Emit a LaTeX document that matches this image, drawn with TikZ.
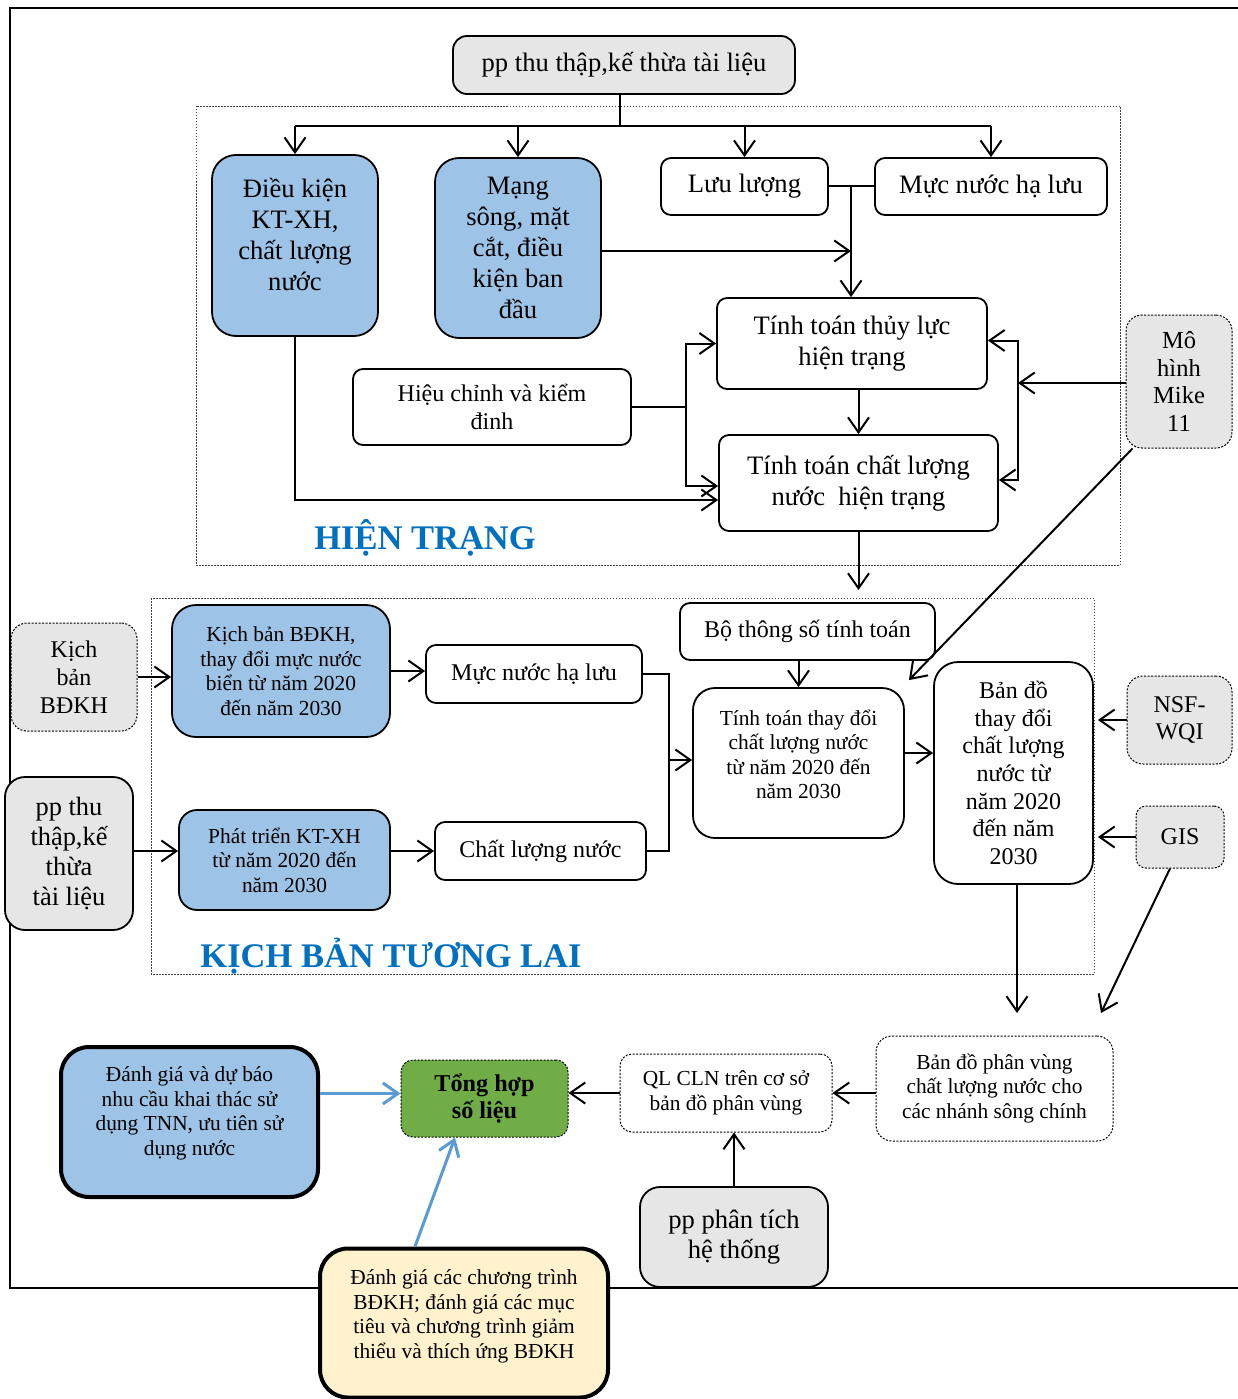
\documentclass[tikz,border=0pt]{standalone}
\usepackage{fontspec}
\setmainfont{Liberation Serif}
\usetikzlibrary{arrows.meta}
\definecolor{bluefill}{HTML}{9DC3E6}
\definecolor{grayfill}{HTML}{E7E6E6}
\definecolor{greenfill}{HTML}{70AD47}
\definecolor{yellowfill}{HTML}{FFF2CC}
\definecolor{titleblue}{HTML}{0070C0}
\definecolor{arrowblue}{HTML}{5B9BD5}
\begin{document}
\begin{tikzpicture}[x=1pt,y=-1pt,
 box/.style={draw, line width=1.8pt, rounded corners=10pt, align=center, inner sep=2pt},
 bluebox/.style={box, fill=bluefill, rounded corners=24pt},
 graybox/.style={box, fill=grayfill, rounded corners=14pt},
 dotbox/.style={box, line width=1pt, dash pattern=on 2pt off 1.5pt, rounded corners=16pt},
 graydot/.style={dotbox, fill=grayfill},
 thickbox/.style={box, line width=4pt, rounded corners=28pt},
 region/.style={draw=black!75, line width=0.8pt, dash pattern=on 1.5pt off 1.5pt},
 conn/.style={line width=2pt},
 arr/.style={conn, -{Straight Barb[length=15pt,width=21pt]}},
 bluearr/.style={line width=3pt, draw=arrowblue, -{Straight Barb[length=15pt,width=21pt]}},
 fXL/.style={font=\fontsize{26.6}{31}\selectfont},
 fL/.style={font=\fontsize{26.6}{31}\selectfont},
 fM/.style={font=\fontsize{24}{27.8}\selectfont},
 fS/.style={font=\fontsize{21.4}{24.5}\selectfont},
 title/.style={font=\fontsize{34.5}{40}\selectfont\bfseries, text=titleblue, anchor=base, inner sep=0pt}
]
\useasboundingbox (0,0) rectangle (1237,1399);
% outer frame
\draw[line width=1.5pt] (1240,8) -- (10,8) -- (10,1288) -- (1240,1288);
% regions
\draw[region] (196,106) rectangle (1120,565);
\draw[region] (151,598) rectangle (1094,974);
\node[title] (lab1) at (425,549) {HIỆN TRẠNG};
\node[title] (lab2) at (391,967) {KỊCH BẢN TƯƠNG LAI};

% ---- HIEN TRANG ----
\node[graybox, fXL, minimum width=342, minimum height=58] (top) at (624,65) {pp thu thập,kế thừa tài liệu};
\node[bluebox, fL, minimum width=166, minimum height=181, text depth=22pt] (dk) at (295,245.5) {Điều kiện\\KT-XH,\\chất lượng\\nước};
\node[bluebox, fL, minimum width=166, minimum height=180] (mang) at (518,248) {Mạng\\sông, mặt\\cắt, điều\\kiện ban\\đầu};
\node[box, fL, minimum width=167, minimum height=57] (luu) at (744.5,186.5) {Lưu lượng};
\node[box, fL, minimum width=232, minimum height=57] (mnhl) at (991,186.5) {Mực nước hạ lưu};
\node[box, fL, minimum width=270, minimum height=91] (tl) at (852,343.5) {Tính toán thủy lực\\hiện trạng};
\node[box, font=\fontsize{24}{28}\selectfont, minimum width=278, minimum height=76] (hc) at (492,407) {Hiệu chỉnh và kiểm\\đinh};
\node[box, fL, minimum width=279, minimum height=96] (cl) at (858.5,483) {Tính toán chất lượng\\nước\ \ hiện trạng};
\node[graydot, font=\fontsize{24.5}{27.8}\selectfont, minimum width=106, minimum height=133] (mike) at (1179,381.5) {Mô\\hình\\Mike\\11};

\coordinate (j0) at (620,126);
\draw[conn] (top.south -| j0) -- (j0);
\draw[conn] (dk.north |- j0) -- (mnhl.north |- j0);
\draw[arr] (dk.north |- j0) -- (dk.north);
\draw[arr] (mang.north |- j0) -- (mang.north);
\draw[arr] (luu.north |- j0) -- (luu.north);
\draw[arr] (mnhl.north |- j0) -- (mnhl.north);

\coordinate (j1) at (851,186.5);
\draw[conn] (luu.east) -- (mnhl.west);
\draw[arr] (j1) -- (j1 |- tl.north);
\draw[arr] ([yshift=-3pt]mang.east) -- ([yshift=-3pt]mang.east -| j1);
\draw[arr] (cl.north |- tl.south) -- (cl.north);

\coordinate (j2) at (686,407);
\draw[conn] (hc.east) -- (j2);
\draw[arr] (j2) |- (tl.west);
\draw[arr] (j2) |- ([yshift=-3pt]cl.west);
\draw[arr] (dk.south) |- ([yshift=-17pt]cl.west);

\coordinate (j3) at (1018,383);
\draw[arr] (mike.west |- j3) -- (j3);
\draw[arr] (j3) |- ([yshift=3pt]tl.east);
\draw[arr] (j3) |- ([yshift=3pt]cl.east);

\coordinate (e2) at (858.5,590);
\draw[arr] (cl.south) -- (e2);

% ---- KICH BAN ----
\node[graydot, fM, minimum width=126, minimum height=108] (kb) at (74,677) {Kịch\\bản\\BĐKH};
\node[bluebox, fS, minimum width=218, minimum height=132] (kbb) at (281,671) {Kịch bản BĐKH,\\thay đổi mực nước\\biển từ năm 2020\\đến năm 2030};
\node[box, fM, minimum width=216, minimum height=58] (mn2) at (534,674) {Mực nước hạ lưu};
\node[graybox, font=\fontsize{26.4}{30}\selectfont, minimum width=128, minimum height=153, rounded corners=20pt] (pp2) at (69,853.5) {pp thu\\thập,kế\\thừa\\tài liệu};
\node[bluebox, fS, minimum width=211, minimum height=100, rounded corners=18pt] (pt) at (284.5,860) {Phát triển KT-XH\\từ năm 2020 đến\\năm 2030};
\node[box, fM, minimum width=211, minimum height=58] (cln) at (540.5,851) {Chất lượng nước};
\node[box, fM, minimum width=255, minimum height=57] (bts) at (807.5,631.5) {Bộ thông số tính toán};
\node[box, fS, minimum width=211, minimum height=150, rounded corners=22pt, text depth=18pt] (ttd) at (798.5,763) {Tính toán thay đổi\\chất lượng nước\\từ năm 2020 đến\\năm 2030};
\node[box, font=\fontsize{24}{27.7}\selectfont, minimum width=159, minimum height=222, rounded corners=24pt] (bd) at (1013.5,773) {Bản đồ\\thay đổi\\chất lượng\\nước từ\\năm 2020\\đến năm\\2030};
\node[graydot, fM, minimum width=105, minimum height=88] (nsf) at (1179.5,720) {NSF-\\WQI};
\node[graydot, fM, minimum width=88, minimum height=62, rounded corners=10pt] (gis) at (1180,837) {GIS};

\draw[arr] (kb.east) -- (kb.east -| kbb.west);
\draw[arr] (kbb.east) -- (kbb.east -| mn2.west);
\draw[arr] (pp2.east |- cln.west) -- (pp2.east |- cln.west -| pt.west);
\draw[arr] (pt.east |- cln.west) -- (cln.west);
\coordinate (j4) at (669,760);
\draw[conn] (mn2.east) -| (j4);
\draw[conn] (cln.east) -| (j4);
\draw[arr] (j4) -- (j4 -| ttd.west);
\draw[arr] (bts.south -| ttd.north) -- (ttd.north);
\draw[arr] ([yshift=10pt]ttd.east) -- ([yshift=10pt]ttd.east -| bd.west);
\draw[arr] (nsf.west) -- ([xshift=4pt]nsf.west -| bd.east);
\draw[arr] (gis.west) -- ([xshift=4pt]gis.west -| bd.east);
\draw[arr] ([xshift=7pt]mike.south west) -- ([xshift=4pt,yshift=7pt]ttd.north east);

\coordinate (e3) at (1017,1013);
\coordinate (e4) at (1101,1013);
\draw[arr] (bd.south -| e3) -- (e3);
\draw[arr] ([xshift=-10pt]gis.south) -- (e4);

% ---- BOTTOM ----
\node[dotbox, fS, minimum width=237, minimum height=105] (bdpv) at (994.5,1088.5) {Bản đồ phân vùng\\chất lượng nước cho\\các nhánh sông chính};
\node[dotbox, fS, minimum width=212, minimum height=78, rounded corners=12pt] (ql) at (726,1093) {QL CLN trên cơ sở\\bản đồ phân vùng};
\node[box, line width=1pt, dash pattern=on 2pt off 1.5pt, fill=greenfill, font=\fontsize{24.2}{27}\selectfont\bfseries, minimum width=167, minimum height=77, rounded corners=12pt] (th) at (484.5,1098.5) {Tổng hợp\\số liệu};
\node[graybox, font=\fontsize{26.6}{30}\selectfont, minimum width=188, minimum height=100, rounded corners=20pt] (ppt) at (734,1237) {pp phân tích\\hệ thống};
\node[thickbox, fill=bluefill, fS, minimum width=257, minimum height=150, text depth=22pt] (dg) at (189.5,1122) {Đánh giá và dự báo\\nhu cầu khai thác sử\\dụng TNN, ưu tiên sử\\dụng nước};
\node[thickbox, fill=yellowfill, fS, minimum width=288, minimum height=149, text depth=18pt] (yel) at (464,1323) {Đánh giá các chương trình\\BĐKH; đánh giá các mục\\tiêu và chương trình giảm\\thiểu và thích ứng BĐKH};

\draw[arr] (bdpv.west |- ql.east) -- (ql.east);
\draw[arr] (ql.west) -- (ql.west -| th.east);
\draw[arr] (ppt.north) -- (ppt.north |- ql.south);
\draw[bluearr] ([yshift=5pt]th.west -| dg.east) -- ([yshift=5pt]th.west);
\draw[bluearr] ([xshift=-49pt]yel.north) -- ([xshift=-29.5pt]th.south);
\end{tikzpicture}
\end{document}
